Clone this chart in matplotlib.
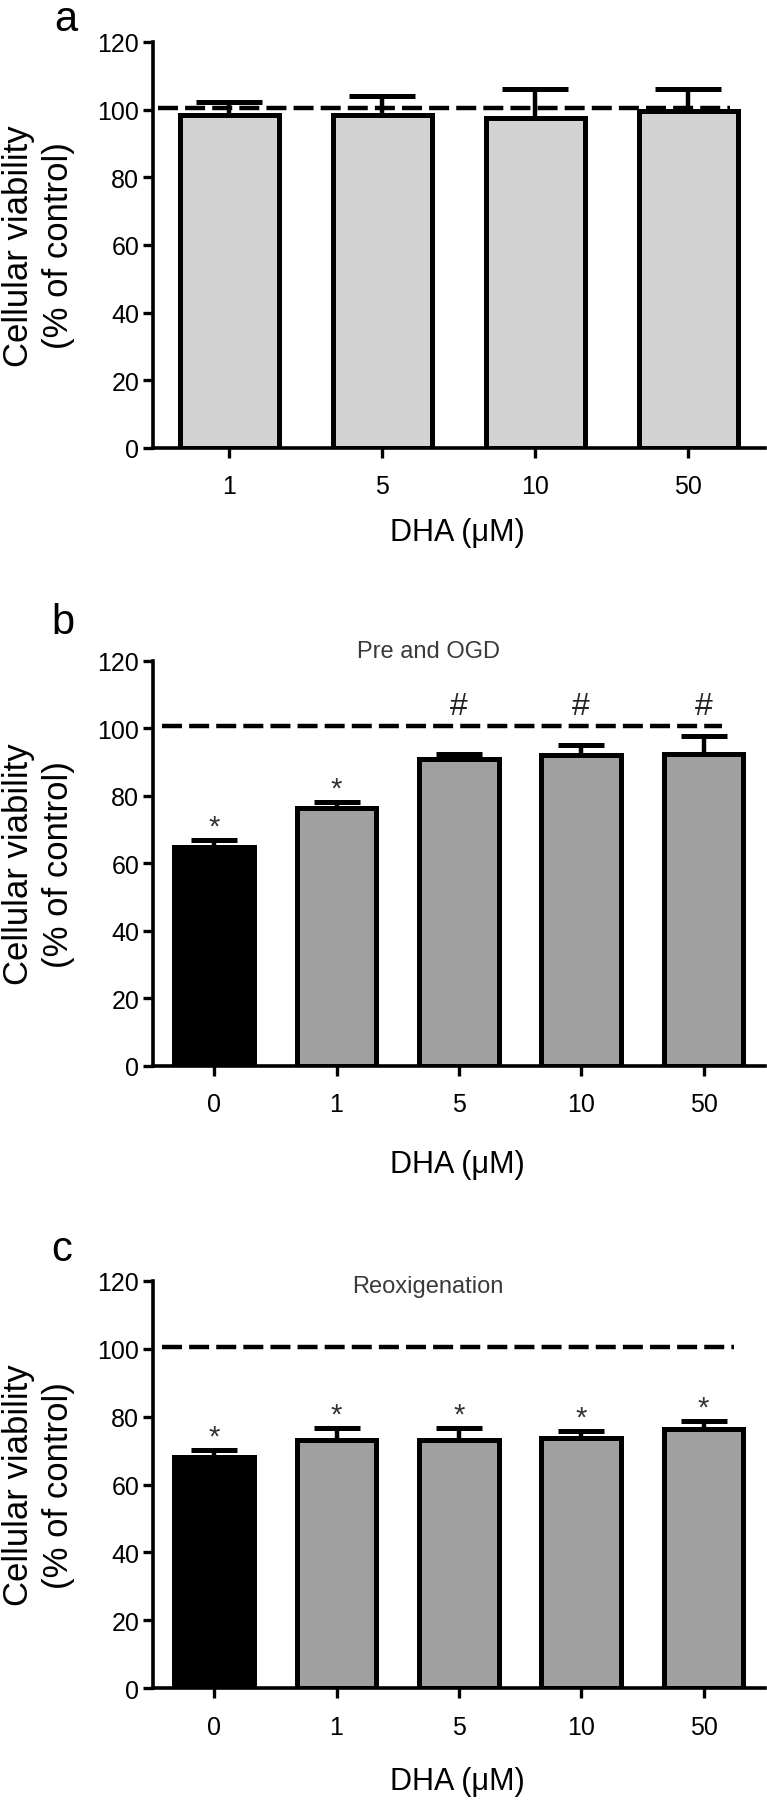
import numpy as np
import matplotlib.pyplot as plt

plt.rcParams['font.family'] = ['Liberation Sans', 'DejaVu Sans']

# ------------------------------------------------------------
# Data (mean and upper SEM, % of control)
# ------------------------------------------------------------

# a: DHA alone
doses_a = ['1', '5', '10', '50']
mean_a = [98.5, 98.3, 97.5, 99.5]
sem_a = [3.9, 5.7, 8.7, 6.7]
marks_a = ['', '', '', '']

# b: Pre and OGD
doses_b = ['0', '1', '5', '10', '50']
mean_b = [64.7, 76.3, 90.9, 92.1, 92.4]
sem_b = [2.2, 1.8, 1.5, 3.0, 5.2]
marks_b = ['*', '*', '#', '#', '#']

# c: Reoxigenation
doses_c = ['0', '1', '5', '10', '50']
mean_c = [68.2, 73.2, 73.2, 73.8, 76.3]
sem_c = [2.0, 3.4, 3.4, 2.0, 2.4]
marks_c = ['*', '*', '*', '*', '*']

control_level = 100.5
yticks = [0, 20, 40, 60, 80, 100, 120]


def draw_panel(ax, doses, mean, sem, marks, colors, title, title_y,
               dash_span, capsize, label_y):
    x = np.arange(len(doses))
    ax.bar(x, mean, width=0.65, color=colors, edgecolor='black',
           linewidth=3.6, zorder=3)
    ax.errorbar(x, mean, yerr=[np.zeros(len(sem)), sem], fmt='none',
                ecolor='black', elinewidth=3.2, capsize=capsize,
                capthick=3.6, zorder=2)
    ax.axhline(control_level, xmin=dash_span[0], xmax=dash_span[1],
               color='black', linewidth=3.2, dashes=(4.5, 1.6), zorder=1)

    # significance marks
    for xi, m, s, mk in zip(x, mean, sem, marks):
        if mk == '*':
            ax.text(xi, m + s + 4.0, '*', ha='center', va='center',
                    fontsize=21, color='#333333')
        elif mk == '#':
            ax.text(xi, 106.5, '#', ha='center', va='center',
                    fontsize=23, color='#222222')

    if title:
        ax.text(0.45, title_y, title, transform=ax.transAxes, ha='center',
                va='center', fontsize=17, color='#3a3a3a')

    ax.set_xlim(-0.5, len(doses) - 0.5)
    ax.set_ylim(0, 120)
    ax.set_yticks(yticks)
    ax.set_xticks(x)
    ax.set_xticklabels(doses)
    for side in ['top', 'right']:
        ax.spines[side].set_visible(False)
    for side in ['left', 'bottom']:
        ax.spines[side].set_linewidth(2.6)
    ax.tick_params(axis='both', width=2.4, length=7, labelsize=18)
    ax.tick_params(axis='y', pad=3)
    ax.tick_params(axis='x', pad=12)

    ax.set_ylabel('Cellular viability\n(% of control)', fontsize=25,
                  linespacing=1.25)
    ax.yaxis.set_label_coords(-0.128, 0.5)
    ax.set_xlabel('DHA (μM)', fontsize=22)
    ax.xaxis.set_label_coords(0.497, label_y)


fig = plt.figure(figsize=(7.67, 18.06), dpi=100)
ax_a = fig.add_axes([0.1995, 0.7514, 0.7975, 0.2248])
ax_b = fig.add_axes([0.1995, 0.4094, 0.7975, 0.2243])
ax_c = fig.add_axes([0.1995, 0.0646, 0.7975, 0.2257])

draw_panel(ax_a, doses_a, mean_a, sem_a, marks_a, ['#d3d3d3'] * 4,
           None, None, (0.008, 0.943), 24, -0.17)
draw_panel(ax_b, doses_b, mean_b, sem_b, marks_b,
           ['black'] + ['#a0a0a0'] * 4, 'Pre and OGD', 1.024,
           (0.015, 0.93), 16.5, -0.205)
draw_panel(ax_c, doses_c, mean_c, sem_c, marks_c,
           ['black'] + ['#a0a0a0'] * 4, 'Reoxigenation', 0.987,
           (0.015, 0.95), 16.5, -0.19)

fig.text(0.086, 0.989, 'a', fontsize=30, ha='center', va='center')
fig.text(0.082, 0.655, 'b', fontsize=30, ha='center', va='center')
fig.text(0.081, 0.308, 'c', fontsize=30, ha='center', va='center')

fig.savefig('out.png', dpi=100)
